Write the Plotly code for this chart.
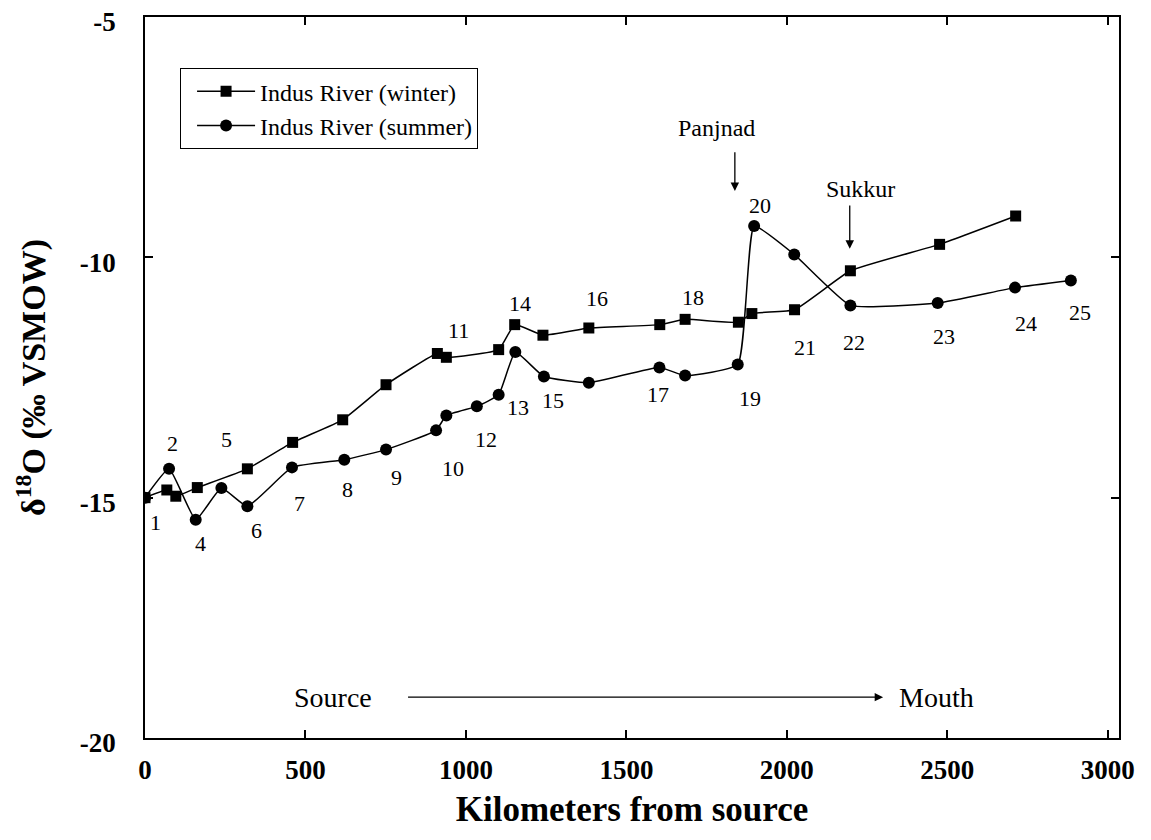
import plotly.graph_objects as go

# ---- data ----
winter_km = [0, 68, 96, 163, 319, 460, 616, 751, 911, 939, 1102, 1152, 1240, 1383,
             1604, 1683, 1849, 1891, 2024, 2198, 2476, 2713]
winter_d18o = [-15.0, -14.84, -14.97, -14.79, -14.40, -13.85, -13.38, -12.65, -12.0, -12.08,
               -11.92, -11.40, -11.62, -11.47, -11.40, -11.29, -11.35, -11.17, -11.09,
               -10.28, -9.73, -9.14]

summer_km = [0, 75, 158, 238, 319, 458, 621, 751, 907, 939, 1034, 1102, 1154, 1243,
             1383, 1603, 1683, 1847, 1898, 2023, 2198, 2470, 2711, 2885]
summer_d18o = [-15.0, -14.40, -15.46, -14.80, -15.18, -14.37, -14.21, -14.0, -13.60, -13.29,
               -13.10, -12.86, -11.97, -12.48, -12.61, -12.29, -12.46, -12.23, -9.35, -9.94,
               -11.0, -10.95, -10.63, -10.48]

# site number labels (text, km, d18O position)
site_labels = ["1", "2", "4", "5", "6", "7", "8", "9", "10", "11", "12", "13", "14", "15",
               "16", "17", "18", "19", "20", "21", "22", "23", "24", "25"]
site_label_km = [33, 86, 174, 255, 346, 481, 632, 783, 960, 976, 1064, 1163, 1168, 1272,
                 1407, 1600, 1709, 1886, 1917, 2057, 2209, 2489, 2745, 2914]
site_label_y = [-15.51, -13.88, -15.95, -13.78, -15.69, -15.13, -14.82, -14.58, -14.40, -11.52,
                -13.80, -13.12, -10.96, -12.98, -10.86, -12.85, -10.83, -12.94, -8.92, -11.87,
                -11.78, -11.65, -11.38, -11.14]

x_ticks = [0, 500, 1000, 1500, 2000, 2500, 3000]
y_ticks = [-20, -15, -10, -5]

SERIF = "Liberation Serif, Times New Roman, serif"

fig = go.Figure()
fig.add_trace(go.Scatter(
    x=winter_km, y=winter_d18o, mode="lines+markers", name="Indus River (winter)",
    line=dict(color="black", width=1.5, shape="spline", smoothing=0.4),
    marker=dict(symbol="square", size=11, color="black"),
))
fig.add_trace(go.Scatter(
    x=summer_km, y=summer_d18o, mode="lines+markers", name="Indus River (summer)",
    line=dict(color="black", width=1.5, shape="spline", smoothing=0.4),
    marker=dict(symbol="circle", size=12, color="black"),
))

annotations = []
for t, xk, yv in zip(site_labels, site_label_km, site_label_y):
    annotations.append(dict(x=xk, y=yv, xref="x", yref="y", text=t, showarrow=False,
                            font=dict(family=SERIF, size=22, color="black")))

# Panjnad and Sukkur
annotations.append(dict(x=1782, y=-7.31, xref="x", yref="y", text="Panjnad", showarrow=False,
                        font=dict(family=SERIF, size=24, color="black")))
annotations.append(dict(x=1838, y=-8.62, ax=1838, ay=-7.78, xref="x", yref="y", axref="x", ayref="y",
                        text="", showarrow=True, arrowhead=2, arrowsize=1.3, arrowwidth=1.3,
                        arrowcolor="black"))
annotations.append(dict(x=2231, y=-8.57, xref="x", yref="y", text="Sukkur", showarrow=False,
                        font=dict(family=SERIF, size=24, color="black")))
annotations.append(dict(x=2196, y=-9.82, ax=2196, ay=-8.89, xref="x", yref="y", axref="x", ayref="y",
                        text="", showarrow=True, arrowhead=2, arrowsize=1.3, arrowwidth=1.3,
                        arrowcolor="black"))

# Source -> Mouth
annotations.append(dict(x=585, y=-19.15, xref="x", yref="y", text="Source", showarrow=False,
                        font=dict(family=SERIF, size=28, color="black")))
annotations.append(dict(x=2465, y=-19.15, xref="x", yref="y", text="Mouth", showarrow=False,
                        font=dict(family=SERIF, size=28, color="black")))
annotations.append(dict(x=2300, y=-19.15, ax=815, ay=-19.15, xref="x", yref="y",
                        axref="x", ayref="y", text="", showarrow=True, arrowhead=2,
                        arrowsize=1.3, arrowwidth=1.3, arrowcolor="black"))

fig.update_layout(
    width=1143, height=832,
    margin=dict(l=137, r=32, t=9, b=102),
    paper_bgcolor="white", plot_bgcolor="white",
    font=dict(family=SERIF, color="black"),
    showlegend=True,
    legend=dict(x=0.036, y=0.929, xanchor="left", yanchor="top",
                bordercolor="black", borderwidth=1, bgcolor="white",
                font=dict(family=SERIF, size=24, color="black"),
                tracegroupgap=0, itemwidth=58, indentation=11),
    annotations=annotations,
    xaxis=dict(
        range=[0, 3035], tickvals=x_ticks, ticktext=[str(v) for v in x_ticks],
        showgrid=False, zeroline=False, showline=True, linecolor="black", linewidth=1.5,
        mirror="ticks", ticks="inside", ticklen=8, tickwidth=1.5, tickcolor="black",
        tickfont=dict(family=SERIF, size=27, color="black", weight="bold"),
        ticklabelstandoff=7, automargin=False, ticklabeloverflow="allow",
        title=dict(text="<b>Kilometers from source</b>", font=dict(family=SERIF, size=35, color="black"),
                   standoff=12),
    ),
    yaxis=dict(
        range=[-20, -5], tickvals=y_ticks, ticktext=[str(v) for v in y_ticks],
        showgrid=False, zeroline=False, showline=True, linecolor="black", linewidth=1.5,
        mirror="ticks", ticks="inside", ticklen=8, tickwidth=1.5, tickcolor="black",
        tickfont=dict(family=SERIF, size=27, color="black", weight="bold"),
        ticklabelstandoff=22, ticklabelshift=5, automargin=False, ticklabeloverflow="allow",
        title=dict(text="<b>δ<sup>18</sup>O (‰ VSMOW)</b>", font=dict(family=SERIF, size=34, color="black"),
                   standoff=24),
    ),
)

fig.write_html("out.html")
